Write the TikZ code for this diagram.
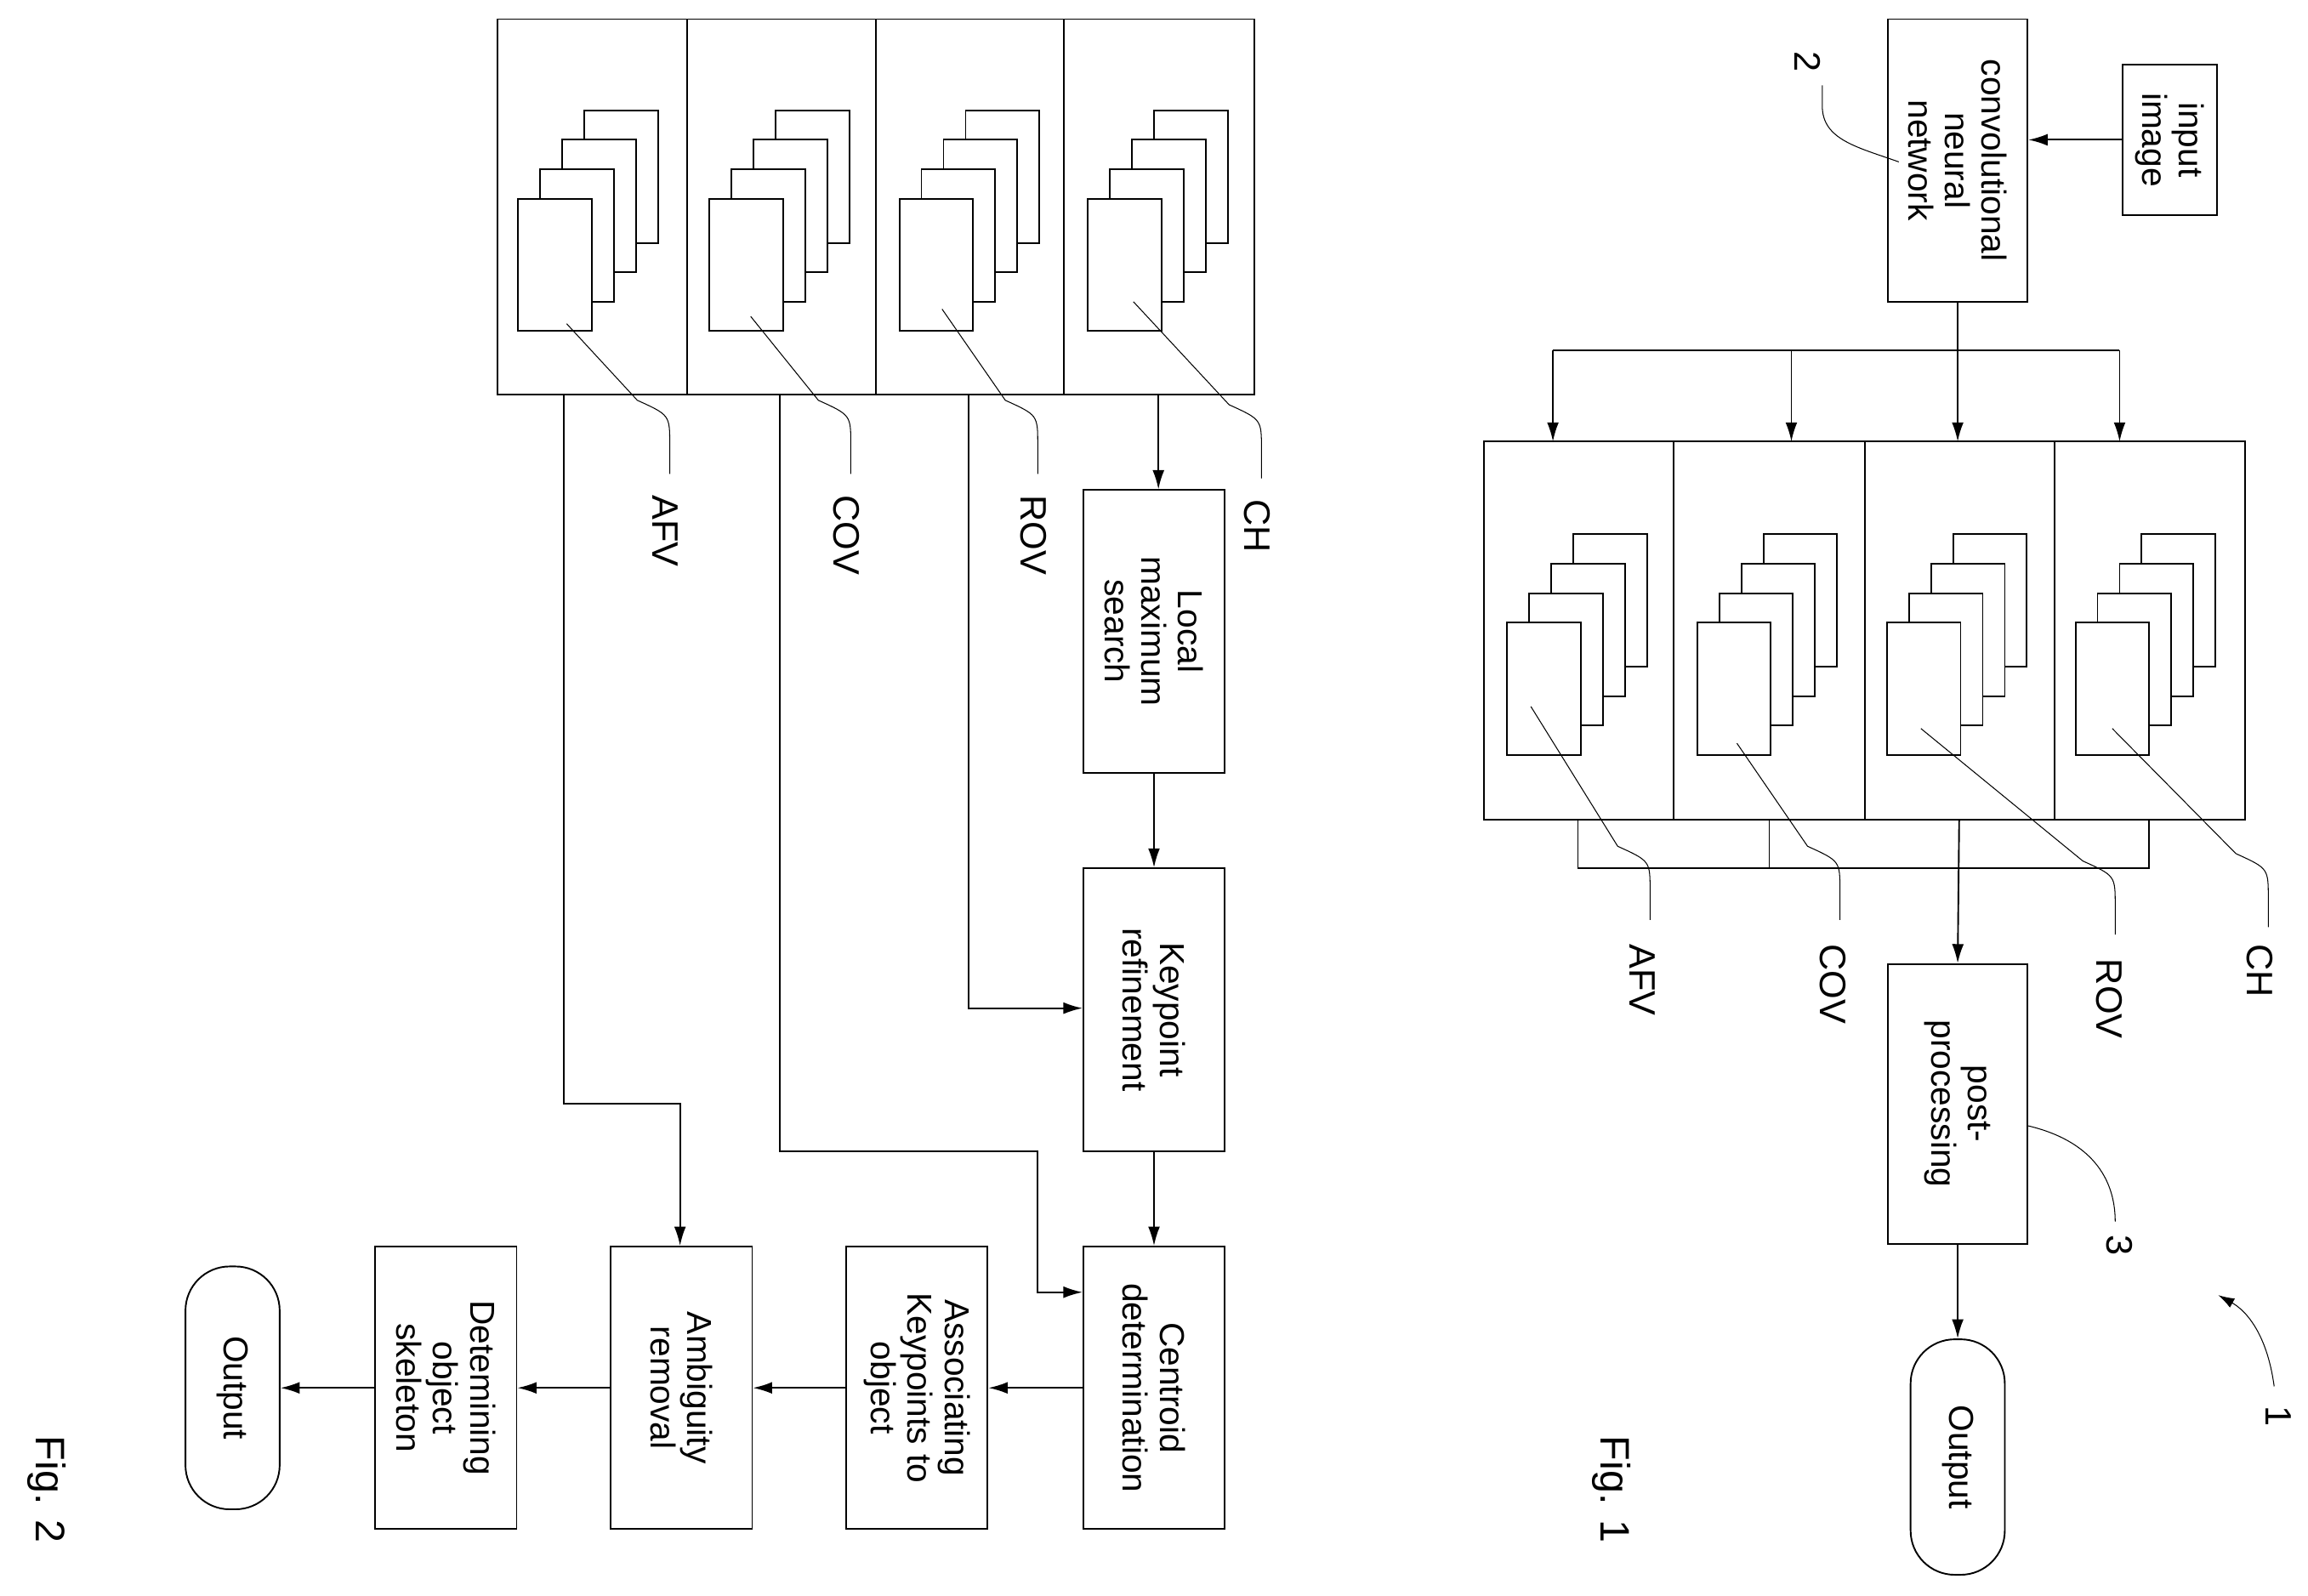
\documentclass[tikz,border=0pt]{standalone}
\usepackage{fontspec}
\setmainfont{Liberation Sans}
\usetikzlibrary{arrows.meta,calc}
\begin{document}
\begin{tikzpicture}[x=1pt,y=-1pt,line width=1.1pt,
  fnt/.style={font=\fontsize{23.5}{25}\selectfont},
  box/.style={draw,rotate=-90,align=center,inner sep=0pt,fnt},
  lbl/.style={rotate=-90,font=\fontsize{25}{28}\selectfont,inner sep=1pt},
  arr/.style={-{Latex[length=13pt,width=8pt]}},
  thin/.style={line width=0.6pt}]
\useasboundingbox (0,0) rectangle (1568,1084);
\newcommand\stk[2]{\foreach \k in {3,2,1,0}{\draw[fill=white] ({#1+15*\k},{#2-20*\k}) rectangle ({#1+15*\k+50},{#2-20*\k+90});}}
\newcommand\leader[4]{\draw[thin] (#1,#2) -- ({#3-22},{#4-50}) .. controls ({#3},{#4-40}) .. ({#3},{#4-20}) -- (#3,#4);}
% ---------- Fig 1 ----------
\node[box,minimum width=102pt,minimum height=64pt] (in) at (1474,95) {input\\image};
\node[box,minimum width=192pt,minimum height=95pt] (cnn) at (1330,109) {convolutional\\neural\\network};
\draw[arr] (in.south) -- (in.south -| cnn.north);
\node[lbl] (n2) at (1228,42) {2};
\draw[thin] (1238,58) -- (1238,72) .. controls (1238,95) and (1262,100) .. (1290,110);
\draw (1008,300) rectangle (1525,557);
\foreach \x in {1137,1267,1396} \draw (\x,300) -- (\x,557);
\foreach \x in {1024,1153,1282,1410} \stk{\x}{423};
\coordinate (sp) at (1330,238);
\draw (cnn.east) -- (sp);
\draw (1055,238) -- (1440,238);
\foreach \x in {1055,1217,1330,1440} \draw[arr] (\x,238) -- (\x,300);
\node[box,minimum width=190pt,minimum height=95pt] (pp) at (1330,750) {post-\\processing};
\draw (1072,557) -- (1072,590) -- (1460,590) -- (1460,557);
\draw (1202,557) -- (1202,590);
\draw[arr] (1331,557) -- (pp.west);
\node[box,minimum width=160pt,minimum height=64pt,rounded corners=30pt] (o1) at (1330,990) {Output};
\draw[arr] (pp.east) -- (o1.west);
\leader{1040}{480}{1121}{625}
\leader{1180}{505}{1250}{625}
\leader{1305}{495}{1437}{635}
\leader{1435}{495}{1541}{630}
\node[lbl,anchor=west] at (1116,640) {AFV};
\node[lbl,anchor=west] at (1245,640) {COV};
\node[lbl,anchor=west] at (1433,650) {ROV};
\node[lbl,anchor=west] at (1535,640) {CH};
\node[lbl] (n3) at (1440,846) {3};
\draw[thin] (1378,765) .. controls (1420,775) and (1437,800) .. (1437,830);
\node[lbl] (n1) at (1548,962) {1};
\draw[thin,-{Latex[length=11pt,width=7pt]}] (1545,942) .. controls (1540,905) and (1525,890) .. (1507,880);
\node[lbl,font=\fontsize{28}{30}\selectfont] at (1095,1012) {Fig. 1};
% ---------- Fig 2 ----------
\draw (338,13) rectangle (852,268);
\foreach \x in {467,595,723} \draw (\x,13) -- (\x,268);
\foreach \x in {352,482,611,739} \stk{\x}{135};
\leader{385}{220}{455}{322}
\leader{510}{215}{578}{322}
\leader{640}{210}{705}{322}
\leader{770}{205}{857}{325}
\node[lbl,anchor=west] at (452,335) {AFV};
\node[lbl,anchor=west] at (575,335) {COV};
\node[lbl,anchor=west] at (702,335) {ROV};
\node[lbl,anchor=west] at (854,338) {CH};
\node[box,minimum width=192pt,minimum height=96pt] (lm) at (784,429) {Local\\maximum\\search};
\node[box,minimum width=192pt,minimum height=96pt] (kr) at (784,686) {Keypoint\\refinement};
\node[box,minimum width=192pt,minimum height=96pt] (cd) at (784,943) {Centroid\\determination};
\node[box,minimum width=192pt,minimum height=96pt] (as) at (623,943) {Associating\\Keypoints to\\object};
\node[box,minimum width=192pt,minimum height=96pt] (ar) at (463,943) {Ambiguity\\removal};
\node[box,minimum width=192pt,minimum height=96pt] (ds) at (303,943) {Detemining\\object\\skeleton};
\node[box,minimum width=165pt,minimum height=64pt,rounded corners=30pt] (o2) at (158,943) {Output};
\coordinate (chB) at (787,268);
\draw[arr] (chB) -- (lm.west -| chB);
\draw[arr] (lm.east) -- (kr.west);
\draw[arr] (kr.east) -- (cd.west);
\coordinate (rovB) at (658,268);
\coordinate (r1) at (0,685);
\draw[arr] (rovB) |- (kr.south |- r1);
\coordinate (covB) at (530,268);
\coordinate (c1) at (705,782);
\coordinate (c2) at (0,878);
\draw[arr] (covB) |- (c1) |- (cd.south |- c2);
\coordinate (afvB) at (383,268);
\coordinate (a1) at (462,750);
\draw[arr] (afvB) |- (a1) -- (ar.west -| a1);
\draw[arr] (cd.south) -- (as.north);
\draw[arr] (as.south) -- (ar.north);
\draw[arr] (ar.south) -- (ds.north);
\draw[arr] (ds.south) -- (o2.north);
\node[lbl,font=\fontsize{28}{30}\selectfont] at (32,1012) {Fig. 2};
\end{tikzpicture}
\end{document}
